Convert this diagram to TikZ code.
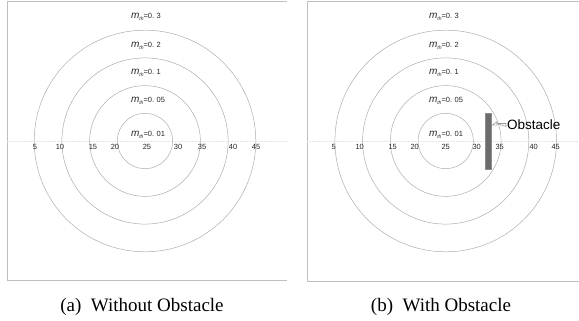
\documentclass[tikz,border=0pt]{standalone}
\usepackage{fontspec}
\setmainfont{Liberation Serif}
\setsansfont{Liberation Sans}
\usetikzlibrary{arrows.meta}
\begin{document}
\begin{tikzpicture}[x=1pt,y=-1pt,
  frame/.style={draw=black!25, line width=0.6pt},
  ring/.style={draw=black!32, line width=0.5pt},
  axis/.style={draw=black!10, line width=0.5pt, densely dotted},
  num/.style={font=\sffamily\fontsize{7.5}{8}\selectfont, text=black!85, inner sep=0pt},
  mlab/.style={font=\sffamily\fontsize{7.5}{8}\selectfont, text=black!85, inner sep=0pt},
  captext/.style={font=\rmfamily\fontsize{19}{20}\selectfont, inner sep=0pt},
  hollowarrow/.style={draw=black!40, fill=white, line width=0.6pt, line join=miter}]
\useasboundingbox (0,0) rectangle (579,321);
\newcommand{\mth}[1]{\textit{\fontsize{10}{10}\selectfont m}\raisebox{-1.8pt}{\textit{\fontsize{5}{5}\selectfont th}}=0.\,\,#1}
% ---------- panel a ----------
\draw[frame] (287,1) -- (7,1) -- (7,280) -- (287,280);
\draw[axis] (7,141) -- (287,141);
\coordinate (ca) at (145,141);
\foreach \r in {27.7,55.4,83.1,110.8} \draw[ring] (ca) circle (\r);
\foreach \dx/\t in {-110/5,-85/10,-52/15,-30/20,2/25,33/30,57/35,88/40,111/45}
  \node[num] at ([xshift=\dx pt,yshift=-5.5pt]ca) {\t};
\node[mlab] (a3) at (146,17) {\mth{3}};
\node[mlab] (a2) at (146,46) {\mth{2}};
\node[mlab] (a1) at (146,73) {\mth{1}};
\node[mlab] (a05) at (148,101) {\mth{05}};
\node[mlab] (a01) at (148,135) {\mth{01}};
\node[captext] (capa) at (142,307) {(a)\ \ Without Obstacle};
% ---------- panel b ----------
\draw[frame] (579,1) -- (307,1) -- (307,281) -- (579,281);
\draw[axis] (307,141) -- (579,141);
\coordinate (cb) at (445.7,141);
\foreach \r in {27.7,55.4,83.1,110.8} \draw[ring] (cb) circle (\r);
\foreach \dx/\t in {-112/5,-86/10,-53/15,-31/20,0/25,31/30,54/35,88/40,110/45}
  \node[num] at ([xshift=\dx pt,yshift=-5.5pt]cb) {\t};
\node[mlab] (b3) at (444,17) {\mth{3}};
\node[mlab] (b2) at (444,46) {\mth{2}};
\node[mlab] (b1) at (444,73) {\mth{1}};
\node[mlab] (b05) at (446,101) {\mth{05}};
\node[mlab] (b01) at (446,135) {\mth{01}};
\node[draw=black!45, fill=black!58, minimum width=5.5pt, minimum height=56pt, inner sep=0pt, line width=0.3pt] (obs) at (488,141) {};
\node[font=\sffamily\fontsize{13.5}{14}\selectfont, anchor=west, inner sep=0pt] (obst) at (507,125) {Obstacle};
\coordinate (tip) at ([xshift=1.5pt]obs.east |- obst.west);
\coordinate (tail) at ([xshift=-1pt]obst.west);
\draw[hollowarrow] (tip) -- ++(4.5,-3.2) -- ++(0,1.7) -- (tail |- 0,123.5) -- (tail |- 0,126.5) -- ([xshift=4.5pt,yshift=1.5pt]tip) -- ++(0,1.7) -- cycle;
\node[captext] (capb) at (441,307) {(b)\ \ With Obstacle};
\end{tikzpicture}
\end{document}
